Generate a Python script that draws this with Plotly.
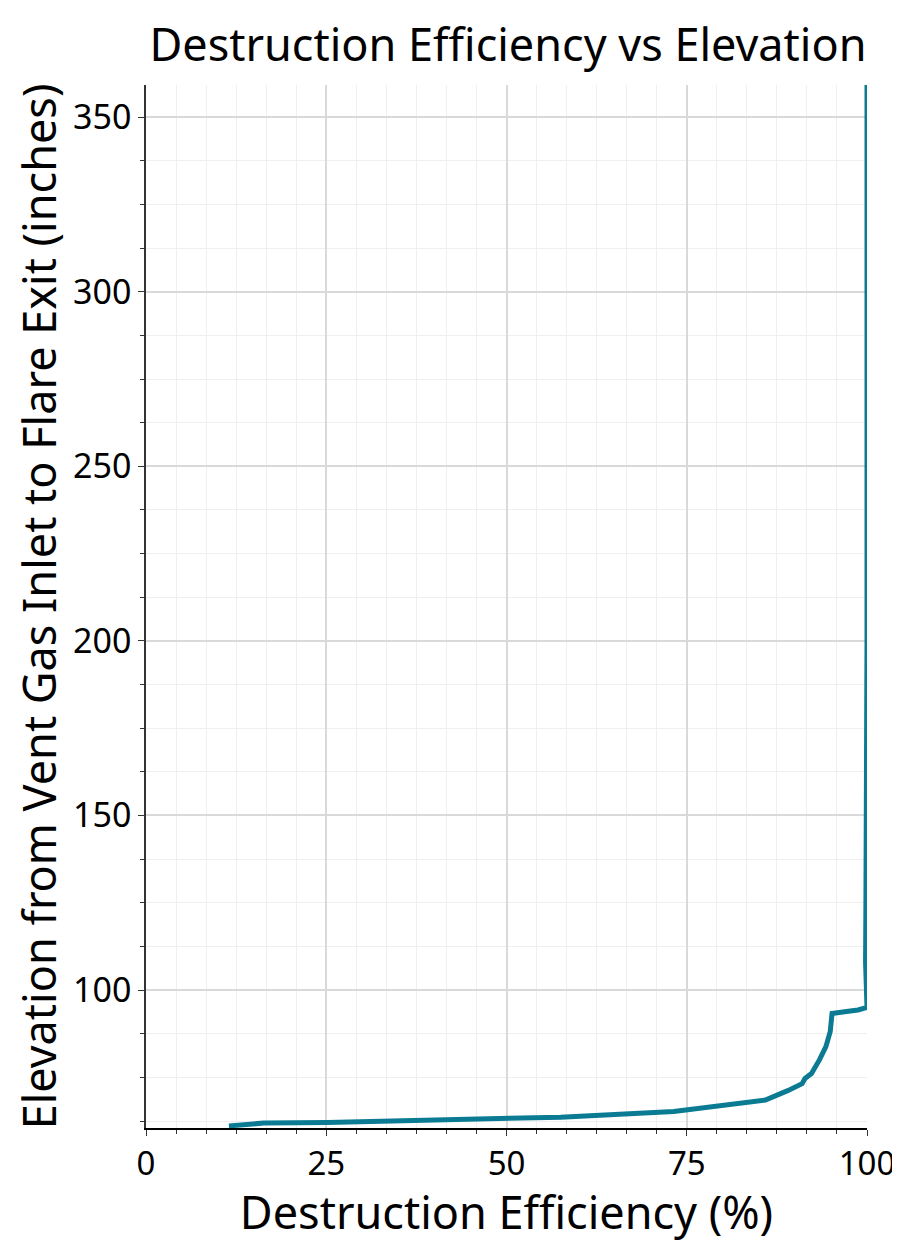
import plotly.graph_objects as go

# destruction efficiency (%) along elevation (inches)
efficiency = [11.5, 16.3, 25.2, 38.9, 50.3, 57.5, 73.2, 76.0, 80.8, 82.8, 85.9,
              89.0, 91.0, 91.4, 92.3, 93.4, 94.3, 94.9, 95.1, 95.15, 96.9, 98.75,
              100.0, 99.9, 99.8, 99.85, 99.9, 99.95, 100.0, 100.0]
elevation = [61.1, 61.9, 62.1, 62.8, 63.3, 63.6, 65.2, 65.9, 67.1, 67.8, 68.5,
             71.2, 73.2, 74.7, 76.1, 80.0, 83.8, 88.1, 92.0, 93.3, 93.8, 94.3,
             95.0, 101.0, 108.0, 125.0, 150.0, 175.0, 200.0, 359.2]

font_family = "Noto Sans"
line_color = "#0a7b93"

fig = go.Figure()
fig.add_trace(go.Scatter(
    x=efficiency,
    y=elevation,
    mode="lines",
    line=dict(color=line_color, width=5),
    showlegend=False,
))

# page body has an 8px margin on the top/left, so shift the figure accordingly
fig.update_layout(
    width=892,
    height=1234,
    template="simple_white",
    paper_bgcolor="white",
    plot_bgcolor="white",
    font=dict(family=font_family, color="black"),
    title=dict(
        text="Destruction Efficiency vs Elevation",
        x=0.5605, xanchor="center",
        y=0.9695, yanchor="middle",
        font=dict(size=45, family=font_family, color="black"),
    ),
    margin=dict(l=138, r=33, t=77, b=114, autoexpand=False),
    xaxis=dict(
        title=dict(text="Destruction Efficiency (%)", font=dict(size=45), standoff=12),
        range=[0, 100],
        tick0=0, dtick=25,
        ticks="outside", ticklen=6, tickcolor="#333",
        tickfont=dict(size=33),
        ticklabeloverflow="allow",
        showline=True, linecolor="black", linewidth=1.5,
        showgrid=True, gridcolor="#d9d9d9", gridwidth=2,
        zeroline=False,
        minor=dict(dtick=25 / 6, tick0=0, ticks="outside", ticklen=4,
                   tickcolor="#333", showgrid=True, gridcolor="#efefef", gridwidth=1),
        automargin=False,
    ),
    yaxis=dict(
        title=dict(text="Elevation from Vent Gas Inlet to Flare Exit (inches)",
                   font=dict(size=45), standoff=16),
        range=[60.5, 359.2],
        tick0=0, dtick=50,
        ticks="outside", ticklen=6, tickcolor="#333",
        tickfont=dict(size=34),
        showline=True, linecolor="#333", linewidth=1.5,
        showgrid=True, gridcolor="#d9d9d9", gridwidth=2,
        zeroline=False,
        minor=dict(dtick=12.5, tick0=0, ticks="outside", ticklen=4,
                   tickcolor="#333", showgrid=True, gridcolor="#efefef", gridwidth=1),
        automargin=False,
    ),
)

fig.write_html("out.html")
